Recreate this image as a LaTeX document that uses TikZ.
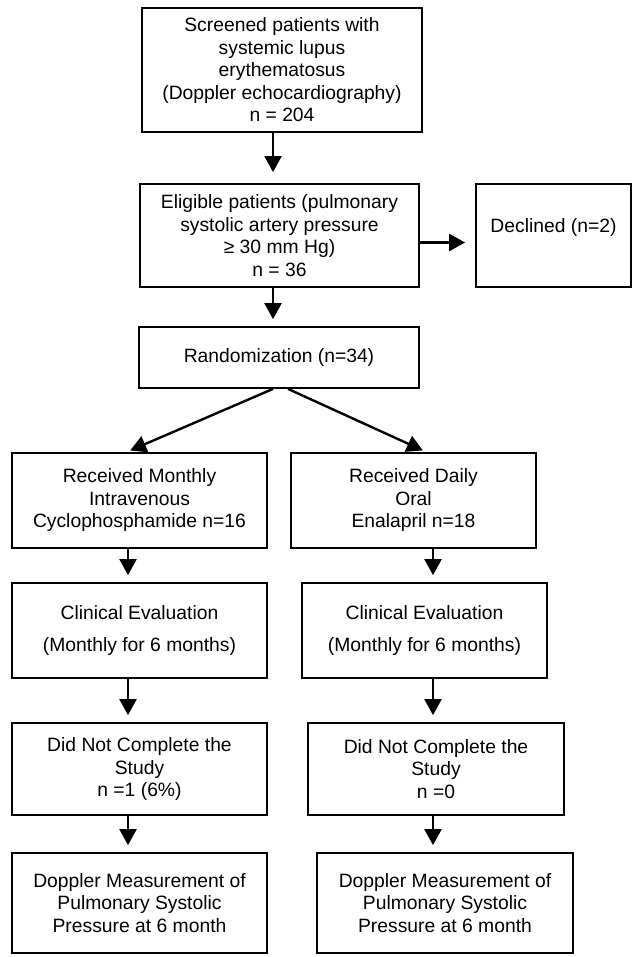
\documentclass[tikz,border=0pt]{standalone}
\usepackage{fontspec}
\setmainfont{Liberation Sans}
\usetikzlibrary{arrows.meta}
\tikzset{
  box/.style={draw=black, line width=1.8pt, align=center, inner sep=0pt,
              font=\fontsize{19.3pt}{22.5pt}\selectfont},
  arr/.style={line width=2.4pt, -{Triangle[width=17pt,length=16pt]}, shorten >=7pt},
}
\begin{document}
\begin{tikzpicture}[x=1pt,y=-1pt]
\fill[white] (0,0) rectangle (632,957);
\useasboundingbox (0,0) rectangle (632,957);

% top column
\node[box, minimum width=280pt, minimum height=124pt] (b1) at (282,70)
  {Screened patients with\\systemic lupus\\erythematosus\\(Doppler echocardiography)\\n = 204};
\node[box, minimum width=279pt, minimum height=103pt] (b2) at (279.5,235.5)
  {Eligible patients (pulmonary\\systolic artery pressure\\≥ 30 mm Hg)\\n = 36};
\node[box, minimum width=155pt, minimum height=103pt, text depth=20pt] (dec) at (553.5,235.5)
  {Declined (n=2)};
\node[box, minimum width=280pt, minimum height=61pt] (rand) at (279,357.5)
  {Randomization (n=34)};

% left column
\node[box, minimum width=255pt, minimum height=95pt] (l1) at (139.5,500.5)
  {Received Monthly\\Intravenous\\Cyclophosphamide n=16};
\node[box, minimum width=255pt, minimum height=95pt] (l2) at (139.5,630.5)
  {Clinical Evaluation\\[9.5pt](Monthly for 6 months)};
\node[box, minimum width=255pt, minimum height=92pt] (l3) at (139.5,769)
  {Did Not Complete the\\Study\\n =1 (6\%)};
\node[box, minimum width=255pt, minimum height=100pt] (l4) at (139.5,903)
  {Doppler Measurement of\\Pulmonary Systolic\\Pressure at 6 month};

% right column
\node[box, minimum width=245pt, minimum height=95pt] (r1) at (413.5,500.5)
  {Received Daily\\Oral\\Enalapril n=18};
\node[box, minimum width=245pt, minimum height=95pt] (r2) at (424.5,630.5)
  {Clinical Evaluation\\[9.5pt](Monthly for 6 months)};
\node[box, minimum width=256pt, minimum height=92pt] (r3) at (436,769)
  {Did Not Complete the\\Study\\n =0};
\node[box, minimum width=256pt, minimum height=100pt] (r4) at (445,903)
  {Doppler Measurement of\\Pulmonary Systolic\\Pressure at 6 month};

% helper coordinates for arrow lines
\coordinate (cx) at (273,0);
\coordinate (lx) at (128,0);
\coordinate (rx) at (433,0);

% connectors
\draw[arr, shorten >=11pt] (b1.south -| cx) -- (b2.north -| cx);
\draw[arr, shorten >=10pt] ([yshift=-7pt]b2.east) -- ([yshift=-7pt]b2.east -| dec.west);
\draw[arr] (b2.south -| cx) -- (rand.north -| cx);
\draw[arr, shorten >=4pt] ([xshift=-6pt]rand.south) -- ([xshift=-13pt]l1.north);
\draw[arr, shorten >=4pt] ([xshift=9pt]rand.south) -- ([xshift=13pt]r1.north);
\draw[arr] (l1.south -| lx) -- (l2.north -| lx);
\draw[arr] (l2.south -| lx) -- (l3.north -| lx);
\draw[arr] (l3.south -| lx) -- (l4.north -| lx);
\draw[arr] (r1.south -| rx) -- (r2.north -| rx);
\draw[arr] (r2.south -| rx) -- (r3.north -| rx);
\draw[arr] (r3.south -| rx) -- (r4.north -| rx);
\end{tikzpicture}
\end{document}
